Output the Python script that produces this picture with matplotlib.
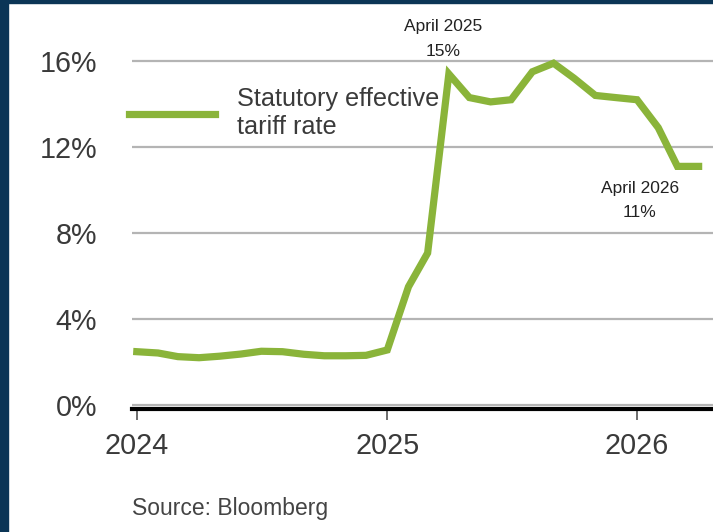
import pandas as pd
import matplotlib
matplotlib.use('Agg')
import matplotlib.pyplot as plt
from matplotlib.patches import Rectangle

plt.rcParams['font.family'] = ['Liberation Sans', 'DejaVu Sans']

# Statutory effective tariff rate (%), monthly Jan 2024 - Apr 2026
months = pd.date_range('2024-01-01', '2026-04-01', freq='MS')
rate = [2.48, 2.42, 2.25, 2.20, 2.27, 2.37, 2.50, 2.48, 2.36, 2.29, 2.29, 2.31,
        2.56, 5.50, 7.07, 15.40, 14.30, 14.10, 14.20, 15.50, 15.90, 15.20, 14.40, 14.30,
        14.20, 12.90, 11.10, 11.10]
yticks = [0, 4, 8, 12, 16]
year_ticks = ['2024-01-01', '2025-01-01', '2026-01-01']
year_labels = ['2024', '2025', '2026']
series_label = 'Statutory effective\ntariff rate'
source = 'Source: Bloomberg'

green = '#8ab43a'
navy = '#0b3556'
W, H = 713, 532

fig = plt.figure(figsize=(W / 100, H / 100), dpi=100, facecolor='white')
# navy frame on the left and top
fig.patches.append(Rectangle((0, 0), 8 / W, 1, transform=fig.transFigure, color=navy, zorder=0))
fig.patches.append(Rectangle((0, 1 - 3 / H), 1, 3 / H, transform=fig.transFigure, color=navy, zorder=0))

ax = fig.add_axes([132 / W, (H - 409.3) / H, 1 - 132 / W, (409.3 - 3) / H])
ax.plot(months, rate, color=green, lw=5.2, solid_joinstyle='miter', zorder=3, label=series_label)

ax.set_ylim(-0.2, 18.7)
ax.set_xlim(pd.Timestamp('2023-12-25'), pd.Timestamp('2026-04-22'))

ax.set_yticks(yticks)
ax.set_yticklabels([f'{v}%' for v in yticks])
ax.set_xticks(pd.to_datetime(year_ticks))
ax.set_xticklabels(year_labels)

ax.grid(axis='y', color='#b4b4b4', lw=1.6)
ax.set_axisbelow(True)
for s in ['left', 'right', 'top']:
    ax.spines[s].set_visible(False)
ax.spines['bottom'].set_color('black')
ax.spines['bottom'].set_linewidth(3)

ax.tick_params(axis='y', length=0, pad=25, labelsize=20.7, labelcolor='#3a3a3a')
ax.tick_params(axis='x', length=8, width=1.2, color='#555555', pad=8, labelsize=20.7, labelcolor='#3a3a3a')

# legend
leg = ax.legend(loc='center left', bbox_to_anchor=(129 / W, 1 - 113 / H), bbox_transform=fig.transFigure,
                frameon=False, fontsize=18.2, handlelength=3.4, handletextpad=0.88,
                borderpad=0, borderaxespad=0)
for t in leg.get_texts():
    t.set_color('#3a3a3a')
    t.set_linespacing(1.18)
for h in leg.get_lines():
    h.set_linewidth(5.2)

# annotations
i_apr25 = list(months).index(pd.Timestamp('2025-04-01'))
i_apr26 = list(months).index(pd.Timestamp('2026-04-01'))
ax.annotate(f"April 2025\n{rate[i_apr25]:.0f}%", xy=(months[i_apr25], rate[i_apr25]),
            xytext=(-6, 35), textcoords='offset pixels', ha='center', va='center',
            multialignment='center', fontsize=12.5, linespacing=1.8, color='#222222',
            annotation_clip=False)
ax.annotate(f"April 2026\n{rate[i_apr26]:.0f}%", xy=(months[i_apr26], rate[i_apr26]),
            xytext=(-59, -34), textcoords='offset pixels', ha='center', va='center',
            multialignment='center', fontsize=12.5, linespacing=1.8, color='#222222',
            annotation_clip=False)

fig.text(132 / W, 1 - 508 / H, source, ha='left', va='center', fontsize=16.5, color='#444444')

fig.savefig('out.png', dpi=100, facecolor=fig.get_facecolor())
